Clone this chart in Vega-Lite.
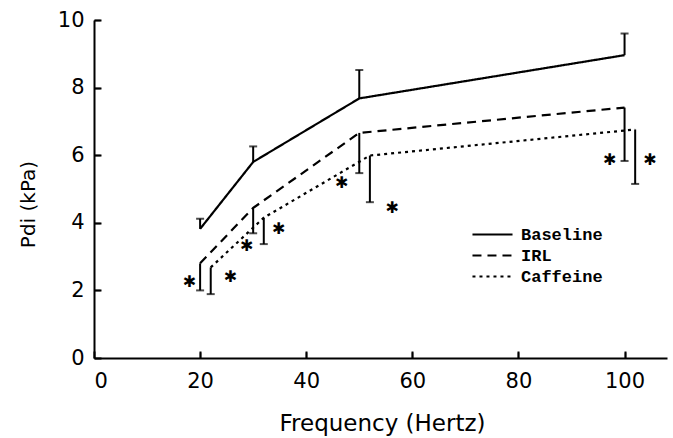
{
  "$schema": "https://vega.github.io/schema/vega-lite/v6.json",
  "width": 573,
  "height": 338,
  "autosize": {"type": "none"},
  "padding": {"left": 94, "top": 20, "right": 6, "bottom": 80},
  "background": "white",
  "config": {
    "view": {"stroke": null},
    "font": "DejaVu Sans",
    "axis": {
      "grid": false,
      "domainColor": "black",
      "domainWidth": 2,
      "tickColor": "black",
      "tickWidth": 2,
      "tickSize": -7,
      "labelColor": "black",
      "labelFont": "DejaVu Sans",
      "labelFontSize": 21,
      "titleColor": "black",
      "titleFont": "DejaVu Sans",
      "titleFontWeight": "normal"
    },
    "legend": {"padding": 0}
  },
  "resolve": {"axis": {"x": "independent", "y": "independent"}},
  "datasets": {
    "means": [
      {"series": "Baseline", "x": 20, "mean": 3.82, "end": 4.12},
      {"series": "Baseline", "x": 30, "mean": 5.80, "end": 6.26},
      {"series": "Baseline", "x": 50, "mean": 7.68, "end": 8.52},
      {"series": "Baseline", "x": 100, "mean": 8.96, "end": 9.6},
      {"series": "IRL", "x": 20, "mean": 2.80, "end": 2.00},
      {"series": "IRL", "x": 30, "mean": 4.44, "end": 3.69},
      {"series": "IRL", "x": 50, "mean": 6.66, "end": 5.47},
      {"series": "IRL", "x": 100, "mean": 7.41, "end": 5.83},
      {"series": "Caffeine", "x": 22, "mean": 2.68, "end": 1.89},
      {"series": "Caffeine", "x": 32, "mean": 4.15, "end": 3.37},
      {"series": "Caffeine", "x": 52, "mean": 5.99, "end": 4.61},
      {"series": "Caffeine", "x": 102, "mean": 6.76, "end": 5.15}
    ],
    "stars": [
      {"x": 18.0, "y": 2.26},
      {"x": 25.7, "y": 2.40},
      {"x": 28.8, "y": 3.32},
      {"x": 34.8, "y": 3.82},
      {"x": 46.7, "y": 5.17},
      {"x": 56.2, "y": 4.43},
      {"x": 97.2, "y": 5.87},
      {"x": 104.8, "y": 5.87}
    ]
  },
  "layer": [
    {
      "data": {"name": "means"},
      "mark": {"type": "line", "color": "black", "strokeWidth": 2.2, "strokeCap": "butt"},
      "encoding": {
        "x": {
          "field": "x", "type": "quantitative",
          "scale": {"domain": [0, 108], "nice": false, "zero": false},
          "axis": {
            "orient": "bottom",
            "values": [0, 20, 40, 60, 80, 100],
            "labelPadding": 19,
            "title": "Frequency (Hertz)",
            "titleFontSize": 23,
            "titleX": 288,
            "titleY": 72,
            "titleAlign": "center",
            "titleBaseline": "alphabetic"
          }
        },
        "y": {
          "field": "mean", "type": "quantitative",
          "scale": {"domain": [0, 10], "nice": false},
          "axis": {
            "orient": "left",
            "values": [0, 2, 4, 6, 8, 10],
            "labelPadding": 17,
            "title": "Pdi (kPa)",
            "titleFontSize": 20,
            "titleX": -66,
            "titleY": 184,
            "titleAngle": -90,
            "titleAlign": "center",
            "titleBaseline": "middle"
          }
        },
        "detail": {"field": "series"},
        "order": {"field": "x", "type": "quantitative"},
        "strokeDash": {
          "field": "series", "type": "nominal",
          "scale": {"domain": ["Baseline", "IRL", "Caffeine"], "range": [[1, 0], [9, 6], [3, 4]]},
          "legend": {
            "orient": "none",
            "legendX": 390,
            "legendY": 206,
            "title": null,
            "symbolType": "M-2.67,0H2.67",
            "symbolSize": 225,
            "symbolStrokeColor": "black",
            "symbolStrokeWidth": 2,
            "labelFont": "Liberation Mono",
            "labelFontSize": 17,
            "labelFontWeight": "bold",
            "labelColor": "black",
            "labelOffset": 20,
            "rowPadding": 3
          }
        }
      }
    },
    {
      "data": {"name": "means"},
      "mark": {"type": "rule", "color": "black", "strokeWidth": 2},
      "encoding": {
        "x": {
          "field": "x", "type": "quantitative",
          "axis": {"orient": "bottom", "offset": -6, "values": [20, 40, 60, 80, 100], "domain": false, "labels": false, "title": null, "tickSize": 6, "tickWidth": 1.5}
        },
        "y": {
          "field": "mean", "type": "quantitative",
          "axis": {"orient": "left", "offset": -6, "values": [2, 4, 6, 8, 10], "domain": false, "labels": false, "title": null, "tickSize": 6, "tickWidth": 1.5}
        },
        "y2": {"field": "end"}
      }
    },
    {
      "data": {"name": "means"},
      "mark": {"type": "tick", "orient": "horizontal", "color": "black", "size": 8, "thickness": 2},
      "encoding": {
        "x": {"field": "x", "type": "quantitative", "axis": null},
        "y": {"field": "end", "type": "quantitative", "axis": null}
      }
    },
    {
      "data": {"name": "stars"},
      "mark": {"type": "text", "text": "✱", "fontSize": 16, "color": "black", "baseline": "middle", "align": "center", "font": "DejaVu Sans"},
      "encoding": {
        "x": {"field": "x", "type": "quantitative", "axis": null},
        "y": {"field": "y", "type": "quantitative", "axis": null}
      }
    }
  ]
}
